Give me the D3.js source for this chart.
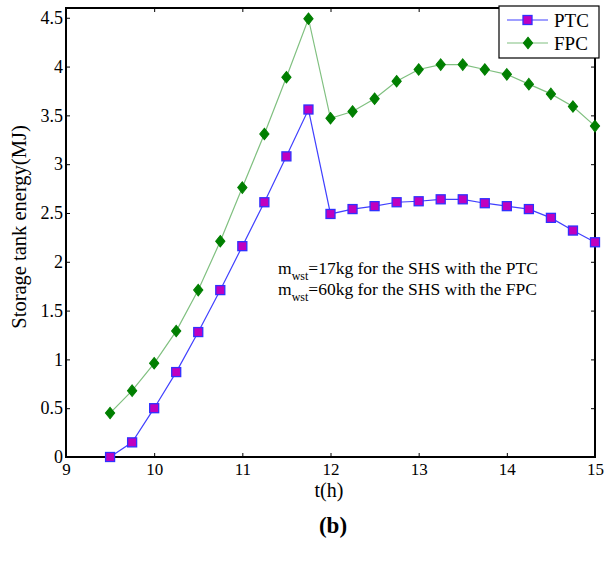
<!DOCTYPE html>
<html lang="en">
<head>
<meta charset="utf-8"/>
<style>
body { margin: 0; background: #fff; }
text { font-family: "Liberation Serif", "Times New Roman", serif; fill: #000; }
.tick text { font-size: 17px; fill: #000; }
.yax .tick text { font-size: 18px; }
.tick line { stroke: #000; }
</style>
</head>
<body>
<svg id="chart" width="605" height="568"></svg>
<script src="https://d3js.org/d3.v7.min.js"></script>
<script>
// hours
var hours = [9.5, 9.75, 10, 10.25, 10.5, 10.75, 11, 11.25, 11.5, 11.75, 12, 12.25,
             12.5, 12.75, 13, 13.25, 13.5, 13.75, 14, 14.25, 14.5, 14.75, 15];
var ptc = [0, 0.15, 0.5, 0.87, 1.28, 1.71, 2.16, 2.61, 3.08, 3.56, 2.49, 2.54,
           2.57, 2.61, 2.62, 2.64, 2.64, 2.60, 2.57, 2.54, 2.45, 2.32, 2.20];
var fpc = [0.45, 0.68, 0.96, 1.29, 1.71, 2.21, 2.76, 3.31, 3.89, 4.49, 3.47, 3.54,
           3.67, 3.85, 3.97, 4.02, 4.02, 3.97, 3.92, 3.82, 3.72, 3.59, 3.39];
var xTicks = [9, 10, 11, 12, 13, 14, 15];
var yTicks = [0, 0.5, 1, 1.5, 2, 2.5, 3, 3.5, 4, 4.5];

var mLeft = 66, mRight = 595, mTop = 8, mBottom = 457;
var svg = d3.select('#chart');

var x = d3.scaleLinear().domain([9, 15]).range([mLeft, mRight]);
var y = d3.scaleLinear().domain([0, 4.6]).range([mBottom, mTop]);

// axes, ticks inward
svg.append('g').attr('transform', 'translate(0,' + mBottom + ')')
  .call(d3.axisBottom(x).tickValues(xTicks).tickSize(-4).tickPadding(6).tickFormat(d3.format('d')))
  .call(g => g.select('.domain').remove());
svg.append('g').attr('class', 'yax').attr('transform', 'translate(' + mLeft + ',0)')
  .call(d3.axisLeft(y).tickValues(yTicks).tickSize(-4).tickPadding(3).tickFormat(d => d))
  .call(g => g.select('.domain').remove());
svg.append('g').attr('transform', 'translate(0,' + mTop + ')')
  .call(d3.axisTop(x).tickValues(xTicks).tickSize(-4).tickFormat(''))
  .call(g => g.select('.domain').remove());
svg.append('g').attr('transform', 'translate(' + mRight + ',0)')
  .call(d3.axisRight(y).tickValues(yTicks).tickSize(-4).tickFormat(''))
  .call(g => g.select('.domain').remove());

svg.append('rect').attr('x', mLeft).attr('y', mTop)
  .attr('width', mRight - mLeft).attr('height', mBottom - mTop)
  .attr('fill', 'none').attr('stroke', '#000').attr('stroke-width', 2);

var line = d3.line().x((d, i) => x(hours[i])).y(d => y(d));

svg.append('path').datum(fpc).attr('d', line)
  .attr('fill', 'none').attr('stroke', '#80c080').attr('stroke-width', 1.2);
svg.append('path').datum(ptc).attr('d', line)
  .attr('fill', 'none').attr('stroke', '#4040ff').attr('stroke-width', 1.2);

var diamond = d3.symbol().type(d3.symbolDiamond).size(38);
svg.append('g').selectAll('path').data(fpc).enter().append('path')
  .attr('d', diamond)
  .attr('transform', (d, i) => 'translate(' + x(hours[i]) + ',' + y(d) + ') scale(1.4,1)')
  .attr('fill', '#007f00').attr('stroke', '#007f00').attr('stroke-width', 0.8);

svg.append('g').selectAll('rect').data(ptc).enter().append('rect')
  .attr('x', (d, i) => x(hours[i]) - 4.5).attr('y', d => y(d) - 4.5)
  .attr('width', 9).attr('height', 9)
  .attr('fill', '#bf00bf').attr('stroke', '#3030ff').attr('stroke-width', 1.3);

// legend
var lg = svg.append('g');
lg.append('rect').attr('x', 499).attr('y', 6).attr('width', 100).attr('height', 52)
  .attr('fill', '#fff').attr('stroke', '#000').attr('stroke-width', 1.2);
lg.append('line').attr('x1', 507).attr('x2', 548).attr('y1', 20).attr('y2', 20)
  .attr('stroke', '#4040ff').attr('stroke-width', 1.2);
lg.append('rect').attr('x', 523).attr('y', 15.5).attr('width', 9).attr('height', 9)
  .attr('fill', '#bf00bf').attr('stroke', '#3030ff').attr('stroke-width', 1.3);
lg.append('text').attr('x', 554).attr('y', 27).attr('font-size', 19).text('PTC');
lg.append('line').attr('x1', 507).attr('x2', 548).attr('y1', 43).attr('y2', 43)
  .attr('stroke', '#80c080').attr('stroke-width', 1.2);
lg.append('path').attr('d', diamond)
  .attr('transform', 'translate(528,43) scale(1.4,1)')
  .attr('fill', '#007f00').attr('stroke', '#007f00').attr('stroke-width', 0.8);
lg.append('text').attr('x', 554).attr('y', 50).attr('font-size', 19).text('FPC');

// annotation
var notes = ['=17kg for the SHS with the PTC', '=60kg for the SHS with the FPC'];
notes.forEach(function(t, i) {
  var g = svg.append('text').attr('x', 278).attr('y', 274 + i * 21).attr('font-size', 17.5);
  g.append('tspan').text('m');
  g.append('tspan').attr('font-size', 12).attr('dy', 6).text('wst');
  g.append('tspan').attr('dy', -6).text(t);
});

// axis labels
svg.append('text').attr('x', 329).attr('y', 497).attr('text-anchor', 'middle')
  .attr('font-size', 20).text('t(h)');
svg.append('text').attr('transform', 'translate(26,227) rotate(-90)')
  .attr('text-anchor', 'middle').attr('font-size', 20.5).text('Storage tank energy(MJ)');
svg.append('text').attr('x', 333).attr('y', 533).attr('text-anchor', 'middle')
  .attr('font-size', 23).attr('font-weight', 'bold').text('(b)');
</script>
</body>
</html>
